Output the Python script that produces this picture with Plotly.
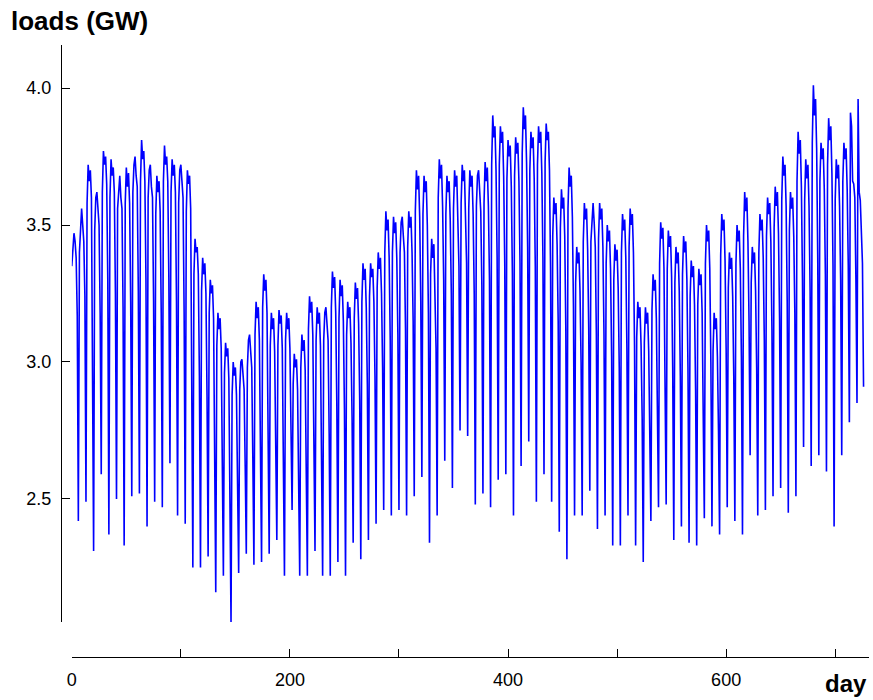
import plotly.graph_objects as go

# Daily loads in GW (hundredths), one row per week (Mon..Sun)
loads_cgw = [
    335, 340, 347, 344, 338, 317, 242,
    340, 352, 356, 350, 344, 324, 249,
    358, 372, 366, 370, 360, 307, 231,
    348, 360, 362, 354, 350, 318, 259,
    362, 377, 372, 375, 365, 330, 237,
    360, 374, 368, 371, 362, 325, 250,
    356, 365, 368, 360, 356, 320, 233,
    358, 371, 364, 369, 358, 322, 251,
    362, 372, 375, 368, 364, 326, 252,
    366, 381, 374, 377, 366, 330, 240,
    360, 370, 372, 364, 360, 322, 249,
    354, 368, 362, 366, 355, 318, 247,
    366, 379, 372, 375, 366, 330, 263,
    362, 374, 368, 372, 362, 322, 244,
    358, 370, 372, 366, 360, 318, 241,
    355, 370, 365, 368, 356, 305, 225,
    332, 345, 340, 342, 332, 295, 225,
    326, 338, 332, 336, 325, 288, 229,
    318, 330, 325, 328, 316, 275, 216,
    306, 318, 312, 316, 305, 268, 222,
    296, 307, 302, 305, 294, 255, 205,
    288, 300, 295, 298, 288, 258, 223,
    290, 300, 301, 296, 290, 262, 230,
    298, 308, 310, 304, 298, 265, 226,
    310, 322, 316, 320, 308, 275, 227,
    320, 332, 326, 330, 318, 280, 230,
    306, 318, 312, 316, 304, 272, 235,
    306, 319, 314, 317, 305, 270, 222,
    308, 318, 312, 316, 305, 275, 246,
    292, 303, 298, 301, 290, 262, 222,
    298, 310, 304, 308, 297, 268, 222,
    312, 324, 318, 322, 310, 278, 231,
    308, 320, 314, 318, 306, 272, 222,
    308, 318, 320, 314, 308, 274, 222,
    320, 333, 327, 331, 318, 285, 227,
    316, 330, 324, 328, 315, 283, 222,
    310, 322, 316, 320, 307, 280, 234,
    316, 329, 323, 327, 314, 286, 228,
    322, 336, 330, 334, 320, 292, 235,
    324, 336, 331, 334, 322, 295, 241,
    327, 340, 334, 338, 325, 298, 246,
    340, 355, 348, 352, 338, 308, 244,
    340, 353, 347, 351, 338, 310, 246,
    340, 351, 353, 346, 340, 312, 244,
    342, 355, 349, 353, 340, 315, 251,
    355, 370, 363, 368, 353, 322, 258,
    354, 368, 362, 366, 350, 318, 234,
    332, 345, 338, 343, 328, 305, 244,
    360, 374, 367, 372, 357, 330, 264,
    354, 368, 362, 366, 352, 325, 254,
    356, 370, 364, 368, 355, 335, 275,
    358, 372, 366, 370, 357, 336, 273,
    356, 370, 364, 368, 354, 325, 248,
    357, 368, 370, 364, 355, 328, 252,
    358, 373, 366, 371, 357, 330, 247,
    372, 390, 382, 386, 370, 338, 257,
    372, 386, 380, 384, 368, 336, 259,
    367, 381, 375, 379, 364, 332, 244,
    368, 382, 376, 380, 366, 336, 262,
    376, 393, 385, 390, 373, 342, 271,
    370, 384, 378, 382, 367, 335, 249,
    372, 386, 380, 384, 369, 338, 259,
    373, 387, 381, 384, 370, 334, 249,
    346, 360, 354, 358, 343, 315, 238,
    349, 363, 356, 360, 346, 312, 228,
    356, 371, 364, 368, 353, 320, 244,
    329, 342, 336, 340, 326, 300, 244,
    344, 358, 352, 356, 341, 312, 253,
    344, 354, 358, 351, 342, 310, 239,
    345, 358, 352, 356, 342, 310, 244,
    336, 350, 344, 348, 334, 302, 233,
    330, 343, 337, 341, 327, 298, 233,
    340, 354, 348, 352, 338, 305, 244,
    342, 356, 350, 354, 340, 306, 233,
    309, 322, 316, 320, 306, 280, 227,
    307, 320, 314, 318, 304, 278, 242,
    319, 332, 326, 330, 316, 288, 247,
    336, 351, 345, 349, 334, 300, 248,
    334, 348, 342, 346, 331, 298, 235,
    329, 342, 336, 340, 326, 295, 240,
    332, 346, 340, 344, 330, 298, 234,
    324, 337, 331, 335, 321, 290, 233,
    321, 334, 328, 332, 318, 288, 243,
    336, 350, 344, 348, 334, 300, 240,
    304, 318, 312, 316, 302, 275, 237,
    339, 354, 348, 352, 337, 305, 247,
    327, 340, 334, 338, 324, 295, 242,
    336, 350, 344, 348, 334, 302, 237,
    346, 362, 355, 360, 344, 315, 266,
    329, 342, 336, 340, 326, 298, 244,
    340, 354, 348, 352, 338, 308, 246,
    346, 360, 354, 358, 344, 312, 251,
    349, 364, 357, 362, 347, 316, 254,
    359, 375, 368, 372, 357, 322, 245,
    348, 362, 356, 360, 346, 318, 251,
    366, 384, 376, 381, 364, 330, 269,
    359, 374, 367, 372, 357, 326, 262,
    380, 401, 390, 396, 378, 338, 266,
    366, 380, 374, 378, 363, 332, 260,
    372, 389, 381, 386, 369, 335, 240,
    359, 374, 367, 372, 357, 330, 266,
    366, 380, 374, 378, 363, 335, 278,
    391, 386, 366, 365, 360, 330, 285,
    396, 362, 359, 350, 336, 291,
]

loads = [v / 100 for v in loads_cgw]
days = list(range(len(loads)))

x_tick_vals = [0, 100, 200, 300, 400, 500, 600, 700]
x_tick_text = ["0", "", "200", "", "400", "", "600", ""]
y_tick_vals = [2.5, 3.0, 3.5, 4.0]

W, H = 873, 700
ML, MR, MT, MB = 61, 4, 45, 43
PW = W - ML - MR
PH = H - MT - MB

fig = go.Figure()
fig.add_trace(go.Scatter(
    x=days, y=loads, mode="lines",
    line=dict(color="#0000FF", width=1.6),
    hoverinfo="skip", showlegend=False,
))

font = dict(family="Liberation Sans, Arial, sans-serif", size=18, color="#000000")

fig.update_layout(
    width=W, height=H,
    margin=dict(l=ML, r=MR, t=MT, b=MB, pad=0),
    paper_bgcolor="white", plot_bgcolor="white",
    font=font,
    xaxis=dict(
        domain=[(71.8 - ML) / PW, 1.0], range=[0, 731],
        anchor="free", position=0,
        showline=True, linecolor="#000000", linewidth=1,
        showgrid=False, zeroline=False,
        ticks="inside", ticklen=8, tickcolor="#000000", tickwidth=1,
        tickvals=x_tick_vals, ticktext=x_tick_text,
        ticklabelstandoff=6,
    ),
    yaxis=dict(
        domain=[(657 - 622) / PH, 1.0], range=[2.051, 4.157],
        anchor="free", position=0,
        showline=True, linecolor="#000000", linewidth=1,
        showgrid=False, zeroline=False,
        ticks="inside", ticklen=8, tickcolor="#000000", tickwidth=1,
        tickvals=y_tick_vals, tickformat=".1f",
        ticklabelstandoff=6,
    ),
    annotations=[
        dict(text="<b>loads (GW)</b>", xref="paper", yref="paper",
             x=(9 - ML) / PW, y=1 + (MT - 4) / PH, xanchor="left", yanchor="top",
             showarrow=False, font=dict(family="Liberation Sans, Arial, sans-serif", size=26, color="#000")),
        dict(text="<b>day</b>", xref="paper", yref="paper",
             x=(846 - ML) / PW, y=-(683 - 657) / PH, xanchor="center", yanchor="middle",
             showarrow=False, font=dict(family="Liberation Sans, Arial, sans-serif", size=24, color="#000")),
    ],
)

fig.write_html("out.html")
